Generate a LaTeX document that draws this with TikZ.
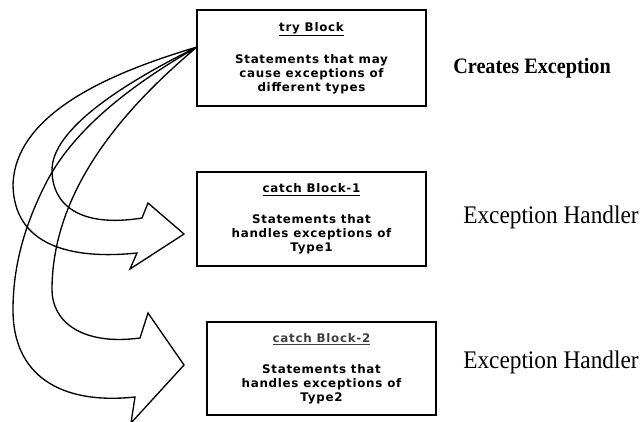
\documentclass[tikz,border=0pt]{standalone}
\usepackage{fontspec}
\setmainfont{Liberation Serif}
\newfontfamily\boxfont[LetterSpace=6]{DejaVu Sans}
\newfontfamily\labfont[FakeStretch=0.92]{Liberation Serif}
\begin{document}
\begin{tikzpicture}[x=0.75pt,y=-0.75pt,
  blk/.style={draw, line width=1.4pt, inner sep=0pt, align=center,
    minimum width=171.75pt,
    font=\boxfont\bfseries\fontsize{8.9}{10.5}\selectfont},
  arr/.style={draw, line width=1pt, line join=miter},
  lab/.style={anchor=base west, inner sep=0pt}]
\useasboundingbox (0,0) rectangle (641,421);
\clip (0,0) rectangle (641,421);

\node[blk, minimum height=72pt] (try) at (311.5,58)
  {\underline{try Block}\\[12.5pt]Statements that may\\cause exceptions of\\different types};
\node[blk, minimum height=70.5pt] (c1) at (311.5,219)
  {\underline{catch Block-1}\\[12.5pt]Statements that\\handles exceptions of\\Type1};
\node[blk, minimum height=69.75pt] (c2) at (321.5,368.5)
  {\textcolor{black!75}{\underline{catch Block-2}}\\[12.5pt]Statements that\\handles exceptions of\\Type2};

\coordinate (src) at (197,47);

% arrow to catch block 1
\draw[arr] (src) .. controls (120,70) and (15,110) .. (13,185)
  .. controls (14,245) and (70,260) .. (137,253)
  -- (130,269) -- (184,234) -- (148,203) -- (142,218)
  .. controls (80,228) and (52,205) .. (52,170)
  .. controls (52,130) and (120,85) .. (src) -- cycle;

% arrow to catch block 2
\draw[arr] (src) .. controls (140,80) and (75,125) .. (45,185)
  .. controls (25,225) and (13,265) .. (13,310)
  .. controls (13,375) and (60,405) .. (135,397)
  -- (131,423) -- (184,365) -- (148,313) -- (140,338)
  .. controls (80,346) and (52,320) .. (52,290)
  .. controls (52,200) and (110,120) .. (src) -- cycle;

\node[lab, font=\labfont\bfseries\fontsize{16.5}{18}\selectfont] (l1) at (453,73) {Creates Exception};
\node[lab, font=\labfont\fontsize{19}{21}\selectfont] (l2) at (463,223) {Exception Handler};
\node[lab, font=\labfont\fontsize{19}{21}\selectfont] (l3) at (463,368) {Exception Handler};
\end{tikzpicture}
\end{document}
